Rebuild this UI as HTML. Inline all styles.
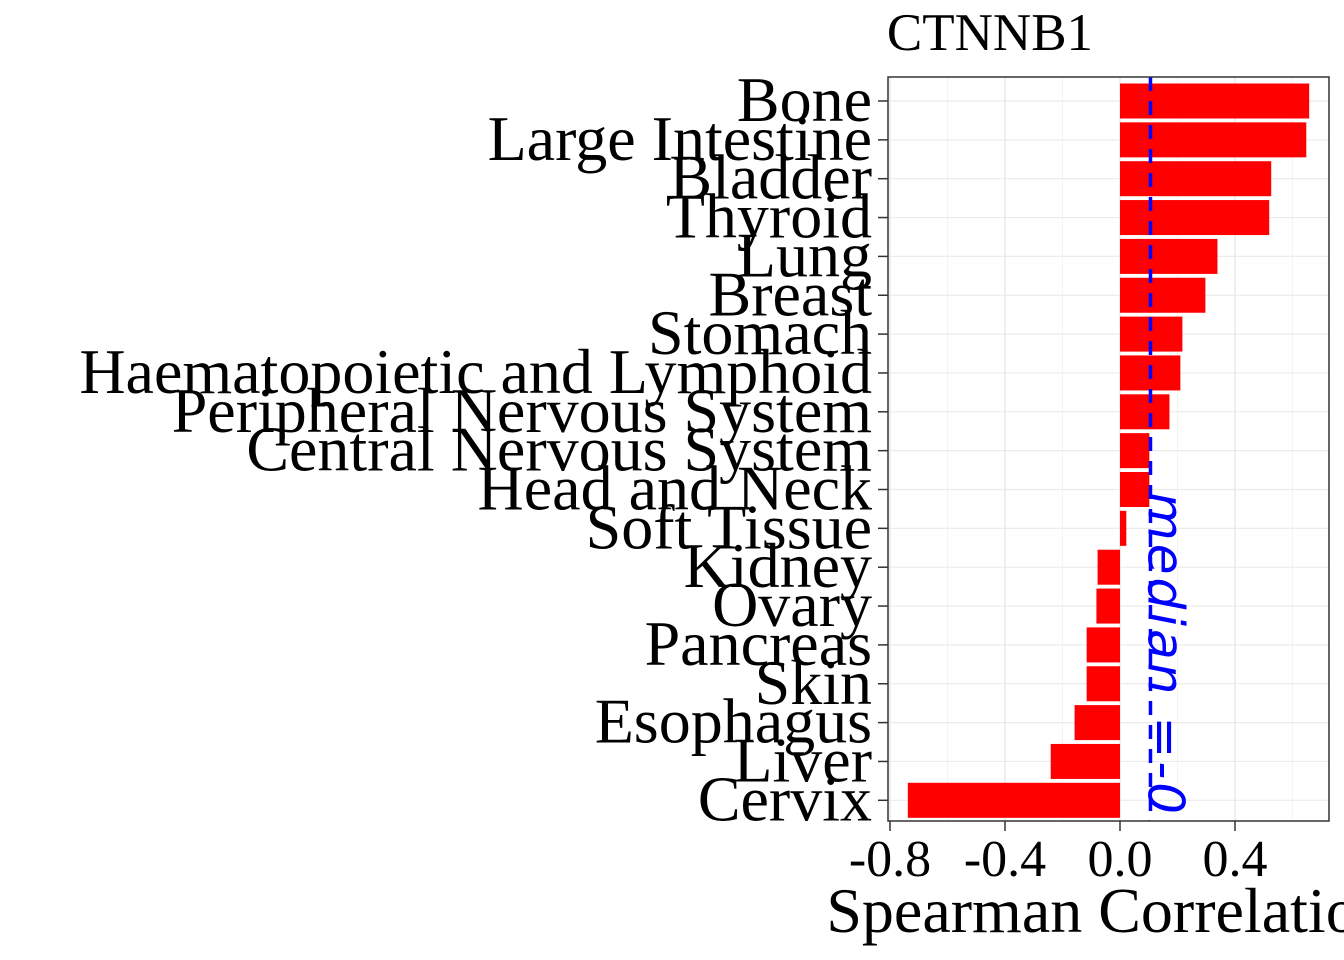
<!DOCTYPE html>
<html><head><meta charset="utf-8"><style>html,body{margin:0;padding:0;background:#fff;overflow:hidden}svg{display:block}</style></head>
<body>
<svg id="chart" width="1344" height="960" xmlns="http://www.w3.org/2000/svg" font-family="Liberation Serif, serif">
<defs><clipPath id="pc"><rect x="888" y="77" width="441" height="744"/></clipPath></defs>
<text x="990" y="50" font-size="53" text-anchor="middle">CTNNB1</text>
<rect x="888" y="77" width="441" height="744" fill="#fff"/>
<g id="grid"></g>
<g id="bars"></g>
<g id="median" clip-path="url(#pc)"></g>
<rect x="888" y="77" width="441" height="744" fill="none" stroke="#333" stroke-width="1.5"/>
<g id="ylab"></g>
<g id="xlab"></g>
<text x="1108" y="932" font-size="64" text-anchor="middle">Spearman Correlation</text>
</svg>
<script>
const categories=["Bone","Large Intestine","Bladder","Thyroid","Lung","Breast","Stomach","Haematopoietic and Lymphoid","Peripheral Nervous System","Central Nervous System","Head and Neck","Soft Tissue","Kidney","Ovary","Pancreas","Skin","Esophagus","Liver","Cervix"];
const values=[0.658,0.648,0.526,0.519,0.339,0.297,0.217,0.21,0.172,0.102,0.102,0.022,-0.078,-0.082,-0.116,-0.116,-0.158,-0.241,-0.738];
const xTicks=[-0.8,-0.4,0.0,0.4];
const xTickLabels=["-0.8","-0.4","0.0","0.4"];
const medianValue=0.106;
const medianLabel="median =-0.1";
const NS="http://www.w3.org/2000/svg";
const x=v=>1120+v*287.5;
const step=38.85, y0=101;
const y=i=>y0+i*step;
function mk(t,a,p){const e=document.createElementNS(NS,t);for(const k in a)e.setAttribute(k,a[k]);p.appendChild(e);return e;}
const grid=document.getElementById('grid');
for(let v=-0.8;v<=0.71;v+=0.2){const g=mk('line',{x1:x(v),x2:x(v),y1:77,y2:821,stroke:Math.abs(Math.round(v*10)%4)==0?'#e6e6e6':'#f2f2f2','stroke-width':Math.abs(Math.round(v*10)%4)==0?1.3:0.8},grid);

}
categories.forEach((c,i)=>{const g=mk('line',{x1:888,x2:1329,y1:y(i),y2:y(i),stroke:'#ebebeb','stroke-width':1.2},grid);

});
const bars=document.getElementById('bars');
values.forEach((v,i)=>{const r=mk('rect',{x:Math.min(x(0),x(v)),y:y(i)-17.5,width:Math.abs(x(v)-x(0)),height:35,fill:'#ff0000'},bars);

});
const med=document.getElementById('median');
const ml=mk('line',{x1:x(medianValue),x2:x(medianValue),y1:77,y2:821,stroke:'#0000ff','stroke-width':3.5,'stroke-dasharray':'14,10'},med);


const mt=mk('text',{transform:`translate(${x(medianValue)-2},492) rotate(90)`,'font-size':50,'letter-spacing':3,'font-family':'DejaVu Sans, sans-serif','font-style':'italic',fill:'#0000ff'},med);
mt.textContent=medianLabel;


const yl=document.getElementById('ylab');
categories.forEach((c,i)=>{const t=mk('text',{x:872,y:y(i)+20,'font-size':64,'text-anchor':'end'},yl);t.textContent=c;


const k=mk('line',{x1:878,x2:888,y1:y(i),y2:y(i),stroke:'#333','stroke-width':1.5},yl);

});
const xl=document.getElementById('xlab');
xTicks.forEach((v,i)=>{const k=mk('line',{x1:x(v),x2:x(v),y1:821,y2:831,stroke:'#333','stroke-width':1.5},xl);


const t=mk('text',{x:x(v),y:876,'font-size':52,'text-anchor':'middle'},xl);t.textContent=xTickLabels[i];

});
</script>
</body></html>
